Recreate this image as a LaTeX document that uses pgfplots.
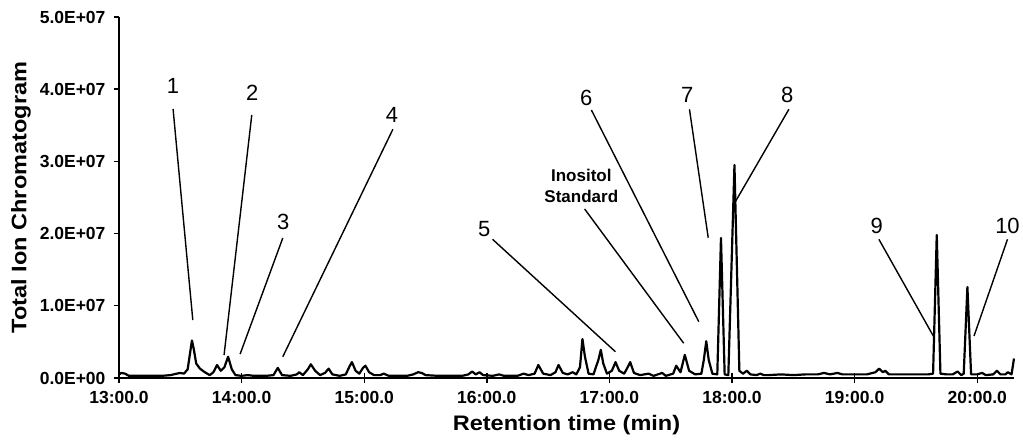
\documentclass[border=0pt]{standalone}
\usepackage{fontspec}
\setmainfont{Liberation Sans}
\usepackage{graphicx}
\usepackage{pgfplots}
\usepackage{pgfplotstable}
\pgfplotsset{compat=1.18}

\newcommand{\numfont}{\fontsize{22}{24}\selectfont}
\newcommand{\tickfont}{\fontsize{17.5}{19}\selectfont\bfseries}
\newcommand{\titlefont}{\fontsize{21}{23}\selectfont\bfseries}
\newcommand{\notefont}{\fontsize{17}{20.7}\selectfont\bfseries}

\pgfplotstableread{
t v
13.00 5e5
13.02 7e5
13.05 6e5
13.08 3e5
13.15 3e5
13.25 3e5
13.35 3e5
13.42 4e5
13.47 6e5
13.50 7e5
13.53 6e5
13.56 1.2e6
13.58 3.5e6
13.595 5.2e6
13.61 4.0e6
13.63 2.0e6
13.66 1.3e6
13.70 8e5
13.74 4e5
13.77 8e5
13.80 1.8e6
13.83 1.0e6
13.86 1.5e6
13.89 2.95e6
13.92 1.2e6
13.95 4e5
14.00 3e5
14.05 4e5
14.10 3e5
14.20 3e5
14.26 4e5
14.295 1.4e6
14.33 4e5
14.40 3e5
14.45 5e5
14.47 8e5
14.50 4e5
14.54 1.2e6
14.565 1.9e6
14.60 1.0e6
14.64 4e5
14.68 7e5
14.71 1.3e6
14.74 5e5
14.80 3e5
14.85 5e5
14.88 1.6e6
14.90 2.2e6
14.93 1.0e6
14.96 6e5
14.99 1.4e6
15.01 1.7e6
15.04 8e5
15.08 4e5
15.13 4e5
15.16 6e5
15.20 3e5
15.28 3e5
15.35 3e5
15.40 5e5
15.44 8e5
15.47 7e5
15.50 4e5
15.60 3e5
15.70 3e5
15.80 3e5
15.85 5e5
15.88 9e5
15.91 5e5
15.94 8e5
15.97 4e5
16.05 3e5
16.10 5e5
16.14 3e5
16.25 3e5
16.30 6e5
16.34 4e5
16.39 6e5
16.42 1.8e6
16.46 6e5
16.52 4e5
16.56 8e5
16.585 1.8e6
16.62 7e5
16.66 5e5
16.70 8e5
16.73 5e5
16.76 1.5e6
16.78 5.4e6
16.80 3.0e6
16.83 6e5
16.87 5e5
16.91 2.5e6
16.93 3.9e6
16.95 2.0e6
16.98 6e5
17.02 1.0e6
17.05 2.2e6
17.08 1.0e6
17.12 6e5
17.14 1.2e6
17.17 2.2e6
17.20 7e5
17.25 4e5
17.32 6e5
17.36 3e5
17.43 7e5
17.46 3e5
17.52 6e5
17.545 1.7e6
17.58 8e5
17.615 3.2e6
17.65 1.0e6
17.70 5e5
17.75 6e5
17.77 2.5e6
17.79 5.1e6
17.81 2.5e6
17.84 6e5
17.88 5e5
17.91 1.94e7
17.94 5e5
17.97 4e5
18.02 2.95e7
18.06 1.0e6
18.09 6e5
18.12 1.0e6
18.15 5e5
18.20 4e5
18.23 6e5
18.26 4e5
18.30 4e5
18.40 5e5
18.50 4e5
18.60 5e5
18.70 5e5
18.75 7e5
18.80 5e5
18.86 7e5
18.90 5e5
19.00 5e5
19.10 5e5
19.17 8e5
19.20 1.3e6
19.23 8e5
19.25 1.0e6
19.28 5e5
19.40 5e5
19.50 5e5
19.60 5e5
19.64 6e5
19.67 1.98e7
19.70 6e5
19.75 5e5
19.80 5e5
19.84 9e5
19.87 4e5
19.89 6e5
19.92 1.26e7
19.95 5e5
20.00 5e5
20.04 7e5
20.07 4e5
20.13 5e5
20.16 1.0e6
20.19 5e5
20.23 5e5
20.25 8e5
20.28 5e5
20.30 2.7e6
}\tic

\begin{document}
\begin{tikzpicture}
\begin{axis}[
  scale only axis, width=895pt, height=361pt,
  xmin=13, xmax=20.3, ymin=0, ymax=5e7,
  axis lines=left, axis line style={-, line width=1.6pt},
  clip=false,
  xtick={13,14,15,16,17,18,19,20},
  xticklabels={13:00.0,14:00.0,15:00.0,16:00.0,17:00.0,18:00.0,19:00.0,20:00.0},
  ytick={0,1e7,2e7,3e7,4e7,5e7},
  yticklabels={0.0E+00,1.0E+07,2.0E+07,3.0E+07,4.0E+07,5.0E+07},
  scaled y ticks=false,
  major tick length=5pt,
  xtick align=center,
  ytick align=outside,
  tick style={line width=1.4pt, black},
  xtick style={/pgfplots/major tick length=10pt},
  ticklabel style={font=\tickfont},
  xticklabel style={anchor=center, yshift=-17pt},
  yticklabel style={anchor=east, xshift=-5pt},
  xlabel={\scalebox{1.12}[1]{Retention time (min)}},
  ylabel={\scalebox{1.12}[1]{Total Ion Chromatogram}},
  label style={font=\titlefont},
  xlabel style={at={(axis description cs:0.5,0)}, anchor=center, yshift=-47pt},
  ylabel style={at={(axis description cs:0,0.5)}, anchor=center, yshift=98pt},
]
\coordinate (O) at (rel axis cs:0,0);
\addplot[black, line width=2.2pt, line join=round, mark=none] table[x=t,y=v] {\tic};

\begin{scope}[line width=1.4pt]
\draw (axis cs:13.441,3.726e7) -- (axis cs:13.602,0.803e7);
\draw (axis cs:14.083,3.643e7) -- (axis cs:13.857,0.319e7);
\draw (axis cs:14.336,1.939e7) -- (axis cs:13.988,0.332e7);
\draw (axis cs:15.234,3.445e7) -- (axis cs:14.336,0.295e7);
\draw (axis cs:16.047,1.921e7) -- (axis cs:17.049,0.364e7);
\draw (axis cs:16.853,3.712e7) -- (axis cs:17.729,0.780e7);
\draw (axis cs:16.798,2.341e7) -- (axis cs:17.606,0.481e7);
\draw (axis cs:17.653,3.722e7) -- (axis cs:17.806,1.943e7);
\draw (axis cs:18.464,3.722e7) -- (axis cs:18.020,2.420e7);
\draw (axis cs:19.198,1.921e7) -- (axis cs:19.642,0.582e7);
\draw (axis cs:20.247,1.921e7) -- (axis cs:19.974,0.582e7);
\end{scope}
\node[font=\numfont] at (axis cs:13.441,4.044e7) {1};
\node[font=\numfont] at (axis cs:14.086,3.947e7) {2};
\node[font=\numfont] at (axis cs:14.339,2.161e7) {3};
\node[font=\numfont] at (axis cs:15.226,3.643e7) {4};
\node[font=\numfont] at (axis cs:15.980,2.060e7) {5};
\node[font=\numfont] at (axis cs:16.812,3.882e7) {6};
\node[font=\numfont] at (axis cs:17.634,3.920e7) {7};
\node[font=\numfont] at (axis cs:18.451,3.920e7) {8};
\node[font=\numfont] at (axis cs:19.180,2.105e7) {9};
\node[font=\numfont] at (axis cs:20.247,2.105e7) {10};
\node[font=\notefont, align=center] at (axis cs:16.771,2.659e7) {Inositol\\Standard};
\end{axis}
\pgfresetboundingbox
\path[use as bounding box] ([shift={(-119pt,-64pt)}]O) rectangle ++(1023pt,442pt);
\end{tikzpicture}
\end{document}
